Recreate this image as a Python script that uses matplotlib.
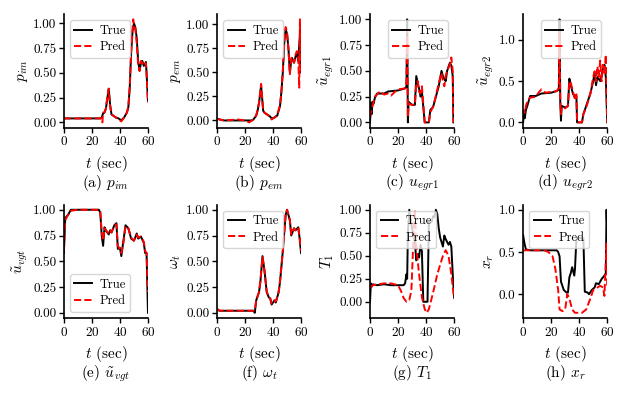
import matplotlib
matplotlib.use("Agg")
import matplotlib.pyplot as plt

plt.rcParams['font.family'] = 'serif'
plt.rcParams['font.serif'] = ['cmr10', 'DejaVu Serif']
plt.rcParams['mathtext.fontset'] = 'cm'
plt.rcParams['axes.formatter.use_mathtext'] = True
plt.rcParams['axes.unicode_minus'] = False
plt.rcParams['font.size'] = 10

# (a) p_im
a_t_true = [0, 5, 15, 26, 27, 28, 29, 30, 31, 32, 33, 34, 35, 37, 39, 41, 43, 45, 46, 47, 48, 49, 50, 51, 52, 53, 54, 55, 56, 57, 58, 58.5, 59, 60]
a_y_true = [0.04, 0.04, 0.04, 0.04, 0.05, 0.09, 0.1, 0.14, 0.24, 0.34, 0.18, 0.08, 0.07, 0.05, 0.04, 0.02, 0.05, 0.1, 0.15, 0.35, 0.7, 0.92, 1.0, 0.96, 0.85, 0.62, 0.52, 0.6, 0.62, 0.57, 0.59, 0.61, 0.5, 0.22]
a_t_pred = [0, 5, 15, 26, 27, 27.5, 28, 29, 30, 31, 32, 33, 34, 35, 37, 39, 41, 43, 45, 46, 47, 48, 49, 49.5, 50, 51, 52, 53, 54, 55, 56, 57, 58, 58.5, 59, 60]
a_y_pred = [0.04, 0.04, 0.04, 0.04, 0.04, 0.0, 0.1, 0.1, 0.14, 0.26, 0.34, 0.16, 0.08, 0.07, 0.05, 0.03, 0.01, 0.05, 0.1, 0.16, 0.36, 0.72, 0.95, 1.04, 0.98, 0.94, 0.8, 0.58, 0.52, 0.62, 0.6, 0.57, 0.58, 0.6, 0.5, 0.2]

# (b) p_em
b_t_true = [0, 2, 5, 15, 25, 26, 28, 29, 30, 31.5, 33, 34, 36, 38, 39, 41, 43, 45, 46, 47, 48, 49, 50, 51, 52, 53, 53.5, 55, 56, 57, 58, 59, 59.5, 60]
b_y_true = [0.02, 0.01, 0.0, 0.0, 0.0, 0.01, 0.05, 0.1, 0.18, 0.36, 0.1, 0.08, 0.06, 0.04, 0.02, 0.03, 0.05, 0.15, 0.3, 0.5, 0.8, 0.95, 0.9, 0.75, 0.5, 0.62, 0.65, 0.6, 0.66, 0.7, 0.62, 0.85, 0.95, 0.5]
b_t_pred = [0, 2, 5, 15, 20, 23, 25, 26, 28, 29, 30, 31.5, 33, 34, 36, 38, 39, 41, 43, 45, 46, 47, 48, 49, 50, 51, 52, 53, 53.5, 55, 56, 57, 58, 58.7, 59.2, 59.6, 60]
b_y_pred = [0.02, 0.01, 0.0, 0.01, 0.0, -0.02, 0.0, 0.01, 0.05, 0.12, 0.18, 0.38, 0.1, 0.08, 0.06, 0.04, 0.01, 0.03, 0.06, 0.16, 0.3, 0.52, 0.82, 0.97, 0.92, 0.74, 0.48, 0.64, 0.66, 0.6, 0.68, 0.72, 0.64, 0.34, 1.05, 0.6, 0.48]

# (c) u_egr1
c_t_true = [0, 0.7, 1.2, 1.7, 2.5, 3.5, 5, 10, 13, 20, 25, 26, 26.5, 27, 27.5, 30, 32, 33, 34.5, 35, 36, 37, 38, 39, 42, 43, 45, 47, 49, 51, 52, 53, 54, 55, 57, 58, 59, 59.5]
c_y_true = [0.0, 0.19, 0.08, 0.2, 0.18, 0.24, 0.28, 0.28, 0.3, 0.31, 0.33, 0.35, 1.0, 0.0, 0.2, 0.17, 0.17, 0.45, 0.35, 0.33, 0.25, 0.3, 0.15, 0.0, 0.0, 0.12, 0.15, 0.25, 0.35, 0.5, 0.45, 0.42, 0.4, 0.5, 0.58, 0.55, 0.45, 0.0]
c_t_pred = [0, 0.7, 1.2, 1.7, 2.5, 3.5, 5, 7, 10, 13, 15, 18, 20, 25, 26, 26.5, 27, 27.5, 30, 32, 33, 34, 35, 36, 37, 38, 39, 42, 43, 45, 47, 49, 51, 52, 53, 54, 55, 57, 58, 59, 59.5]
c_y_pred = [0.05, 0.1, 0.12, 0.15, 0.2, 0.25, 0.27, 0.3, 0.27, 0.28, 0.26, 0.3, 0.32, 0.33, 0.4, 0.9, 0.05, 0.18, 0.17, 0.17, 0.38, 0.4, 0.3, 0.28, 0.35, 0.18, 0.0, 0.0, 0.1, 0.15, 0.26, 0.38, 0.48, 0.4, 0.35, 0.45, 0.5, 0.56, 0.63, 0.5, 0.0]

# (d) u_egr2
d_t_true = [0, 0.6, 1.2, 2, 3, 5, 9, 13, 20, 24, 25.5, 26, 26.5, 27, 27.5, 30, 32, 33, 34, 35.5, 37, 38, 38.5, 42, 43, 45, 48, 50, 51, 52, 53, 55, 57, 58, 59, 60]
d_y_true = [0.0, 0.12, 0.05, 0.15, 0.2, 0.32, 0.32, 0.35, 0.36, 0.38, 0.4, 1.25, 0.25, 0.02, 0.2, 0.18, 0.2, 0.53, 0.45, 0.35, 0.3, 0.32, 0.0, 0.0, 0.1, 0.2, 0.35, 0.5, 0.6, 0.45, 0.55, 0.5, 0.65, 0.7, 0.55, 0.0]
d_t_pred = [0, 0.6, 1.2, 2, 3, 5, 9, 11, 13, 16, 20, 24, 25.5, 26, 26.5, 27, 27.5, 30, 32, 33, 34, 35.5, 37, 38, 38.5, 42, 43, 45, 48, 50, 51, 52, 53, 54, 55, 56, 57, 58, 59, 60]
d_y_pred = [0.1, 0.15, 0.12, 0.2, 0.25, 0.3, 0.31, 0.36, 0.4, 0.36, 0.37, 0.38, 0.42, 1.1, 0.28, 0.1, 0.18, 0.17, 0.2, 0.5, 0.48, 0.38, 0.28, 0.34, 0.0, 0.0, 0.1, 0.18, 0.35, 0.55, 0.62, 0.5, 0.68, 0.55, 0.75, 0.5, 0.7, 0.6, 0.82, 0.0]

# (e) u_vgt
e_t_true = [0, 1, 3, 5, 10, 25, 26, 27, 28, 29, 30, 32, 33, 34, 36, 37.5, 38.5, 40, 41, 42.5, 44, 46, 48, 50, 52, 53, 55, 57, 58, 59, 60]
e_y_true = [0.58, 0.92, 0.95, 1.0, 1.0, 1.0, 0.97, 0.75, 0.65, 0.83, 0.8, 0.76, 0.8, 0.78, 0.85, 0.87, 0.62, 0.63, 0.55, 0.7, 0.85, 0.82, 0.72, 0.7, 0.77, 0.72, 0.74, 0.68, 0.58, 0.58, 0.0]
e_t_pred = [0, 1, 3, 5, 10, 25, 26, 27, 28, 29, 30, 32, 33, 34, 36, 37.5, 38.5, 40, 41, 42.5, 44, 46, 48, 50, 52, 53, 55, 57, 58, 59, 60]
e_y_pred = [0.6, 0.9, 0.95, 0.99, 1.0, 1.0, 0.98, 0.78, 0.7, 0.82, 0.8, 0.77, 0.8, 0.78, 0.84, 0.86, 0.65, 0.62, 0.58, 0.68, 0.84, 0.82, 0.73, 0.7, 0.76, 0.73, 0.74, 0.69, 0.6, 0.58, 0.2]

# (f) omega_t
f_t_true = [0, 2, 10, 26, 27, 28, 30, 31, 32.5, 34, 35.5, 37, 38, 39, 41, 42, 44, 45, 47, 49, 50, 52, 53, 55, 56, 58, 59, 60]
f_y_true = [0.03, 0.02, 0.02, 0.02, 0.0, 0.12, 0.2, 0.3, 0.55, 0.4, 0.2, 0.15, 0.14, 0.08, 0.12, 0.1, 0.2, 0.3, 0.6, 0.95, 1.0, 0.9, 0.75, 0.82, 0.8, 0.83, 0.72, 0.58]
f_t_pred = [0, 2, 10, 26, 27, 28, 30, 31, 32.5, 34, 35.5, 37, 38, 39, 41, 42, 44, 45, 47, 49, 50, 52, 53, 55, 56, 58, 59, 60]
f_y_pred = [0.04, 0.02, 0.02, 0.02, 0.02, 0.12, 0.2, 0.31, 0.54, 0.4, 0.21, 0.15, 0.14, 0.09, 0.12, 0.11, 0.2, 0.31, 0.6, 0.95, 1.0, 0.9, 0.76, 0.82, 0.8, 0.83, 0.73, 0.6]

# (g) T_1
g_t_true = [0, 0.6, 1, 2, 5, 10, 15, 20, 24, 25, 26, 26.5, 27, 28, 30, 32, 33, 34, 35, 36, 37, 38, 41, 42, 44, 45, 46, 47, 48, 49, 50, 52, 53, 54, 56, 57, 58, 59, 60]
g_y_true = [0.0, 0.2, 0.16, 0.19, 0.18, 0.19, 0.18, 0.18, 0.18, 0.2, 0.3, 0.25, 0.75, 1.0, 0.8, 0.65, 0.45, 0.52, 0.48, 0.62, 0.55, 0.0, 0.0, 0.88, 0.87, 0.93, 0.92, 1.0, 0.95, 0.8, 0.7, 0.6, 0.72, 0.68, 0.62, 0.65, 0.6, 0.3, 0.05]
g_t_pred = [0, 2, 6, 10, 15, 20, 22, 24, 26, 28, 29.5, 31, 32, 33, 35, 37, 39, 40.5, 42, 45, 48, 52, 54, 56, 58, 60]
g_y_pred = [0.15, 0.18, 0.19, 0.2, 0.2, 0.18, 0.12, 0.04, 0.0, 0.02, 0.12, 0.7, 1.0, 0.6, 0.3, 0.05, -0.08, -0.12, -0.08, 0.1, 0.3, 0.5, 0.56, 0.5, 0.3, 0.03]

# (h) x_r
h_t_true = [0, 1, 2, 5, 20, 24, 25, 26, 27, 29, 31, 32, 33, 34, 35, 36.5, 37, 38, 41, 43, 44, 46, 47, 49, 51, 52, 54, 56, 58, 59, 59.5, 60]
h_y_true = [0.7, 0.6, 0.53, 0.52, 0.52, 0.52, 0.5, 0.45, 0.15, 0.05, 0.02, 0.02, 0.2, 0.25, 0.32, 0.22, 0.3, 0.65, 0.67, 0.66, 0.03, 0.02, 0.0, 0.05, 0.08, 0.13, 0.12, 0.18, 0.22, 0.25, 1.0, 0.75]
h_t_pred = [0, 5, 15, 18, 21, 23, 25, 26, 28, 30, 31.5, 33, 35, 37, 42, 45, 48, 50, 53, 55, 57, 58, 59.5, 60]
h_y_pred = [0.52, 0.52, 0.52, 0.5, 0.45, 0.3, 0.05, -0.18, -0.2, -0.18, 0.0, -0.05, -0.18, -0.22, -0.22, -0.18, -0.05, 0.05, 0.08, 0.1, 0.08, -0.02, 0.6, 0.1]

panels = [
    (a_t_true, a_y_true, a_t_pred, a_y_pred, r'$p_{im}$', r'(a) $p_{im}$', 'upper left', [0, 0.25, 0.5, 0.75, 1.0], '{:.2f}'),
    (b_t_true, b_y_true, b_t_pred, b_y_pred, r'$p_{em}$', r'(b) $p_{em}$', 'upper left', [0, 0.25, 0.5, 0.75, 1.0], '{:.2f}'),
    (c_t_true, c_y_true, c_t_pred, c_y_pred, r'$\tilde{u}_{egr1}$', r'(c) $u_{egr1}$', 'upper right', [0, 0.25, 0.5, 0.75, 1.0], '{:.2f}'),
    (d_t_true, d_y_true, d_t_pred, d_y_pred, r'$\tilde{u}_{egr2}$', r'(d) $u_{egr2}$', 'upper right', [0, 0.5, 1.0], '{:.1f}'),
    (e_t_true, e_y_true, e_t_pred, e_y_pred, r'$\tilde{u}_{vgt}$', r'(e) $\tilde{u}_{vgt}$', 'lower left', [0, 0.25, 0.5, 0.75, 1.0], '{:.2f}'),
    (f_t_true, f_y_true, f_t_pred, f_y_pred, r'$\omega_t$', r'(f) $\omega_t$', 'upper left', [0, 0.25, 0.5, 0.75, 1.0], '{:.2f}'),
    (g_t_true, g_y_true, g_t_pred, g_y_pred, r'$T_1$', r'(g) $T_1$', 'upper left', [0, 0.25, 0.5, 0.75, 1.0], '{:.2f}'),
    (h_t_true, h_y_true, h_t_pred, h_y_pred, r'$x_r$', r'(h) $x_r$', 'upper left', [0, 0.5, 1.0], '{:.1f}'),
]

fig, axes = plt.subplots(2, 4, figsize=(6.26, 3.94), dpi=100)
fig.subplots_adjust(left=0.102, right=0.97, top=0.964, bottom=0.193, wspace=0.82, hspace=0.68)

for ax, (tt, yt, tp, yp, ylab, cap, loc, yticks, fmt) in zip(axes.flat, panels):
    ax.plot(tt, yt, color='black', lw=1.4, label='True')
    ax.plot(tp, yp, color='red', lw=1.4, ls='--', label='Pred')
    ax.set_xlim(0, 60)
    ax.set_xticks([0, 20, 40, 60])
    ax.set_yticks(yticks)
    ax.set_yticklabels([fmt.format(v) for v in yticks])
    ax.set_xlabel(r'$t$ (sec)', fontsize=11, labelpad=4)
    ax.set_ylabel(ylab, fontsize=11, labelpad=2)
    ax.spines['top'].set_visible(False)
    ax.spines['right'].set_visible(False)
    ax.spines['left'].set_linewidth(1.2)
    ax.spines['bottom'].set_linewidth(1.2)
    ax.tick_params(labelsize=9.5, length=3.5, width=1.0, pad=2)
    ax.legend(loc=loc, fontsize=9, handlelength=1.4, borderpad=0.35, labelspacing=0.35, handletextpad=0.6)
    ax.text(0.5, -0.40, cap, transform=ax.transAxes, ha='center', va='top', fontsize=11)

fig.savefig('out.png', dpi=100)
